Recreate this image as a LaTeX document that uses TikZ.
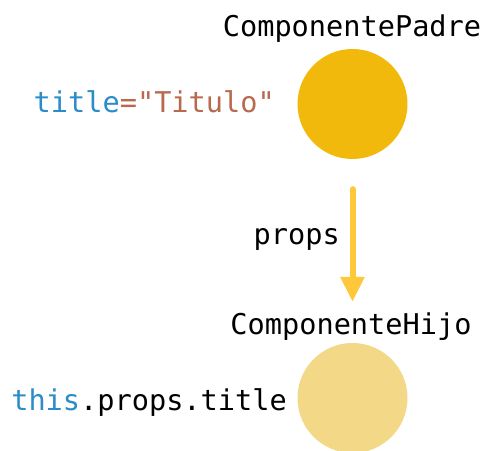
\documentclass[tikz,border=0pt]{standalone}
\usepackage{fontspec}
\newfontfamily\codefont{DejaVu Sans Mono}
\usetikzlibrary{arrows.meta,positioning}
\definecolor{padreamarillo}{HTML}{F2B90D}
\definecolor{hijoamarillo}{HTML}{F2D887}
\definecolor{flechaamarillo}{HTML}{FFC83A}
\definecolor{codeazul}{HTML}{2A8CC8}
\definecolor{codemarron}{HTML}{B8694E}
\begin{document}
\begin{tikzpicture}[x=1pt,y=1pt,
    every node/.style={font=\codefont\fontsize{28.6}{34}\selectfont,inner sep=0pt},
    comp/.style={circle,minimum size=110pt},
    etiq/.style={anchor=base}]
    \useasboundingbox (0,0) rectangle (487,450);
    % componentes
    \node[comp,fill=padreamarillo] (padre) at (352.5,346) {};
    \node[comp,fill=hijoamarillo] (hijo) at (352.5,52) {};
    % nombres
    \node[etiq] (nomPadre) at (352,413) {ComponentePadre};
    \node[etiq] (nomHijo) at (351,115) {ComponenteHijo};
    % codigo
    \node[anchor=base east] (attr) at (275,337) {\textcolor{codeazul}{title}\textcolor{codemarron}{="Titulo"}};
    \node[anchor=base east] (uso) at (287,40) {\textcolor{codeazul}{this}.props.title};
    % flecha
    \draw[flechaamarillo,line width=6pt,line cap=round,shorten <=30pt,shorten >=41pt,
          -{Triangle[width=23pt,length=25pt]}] (padre) -- (hijo);
    \node[anchor=base east] (props) at (340,205) {props};
\end{tikzpicture}
\end{document}
